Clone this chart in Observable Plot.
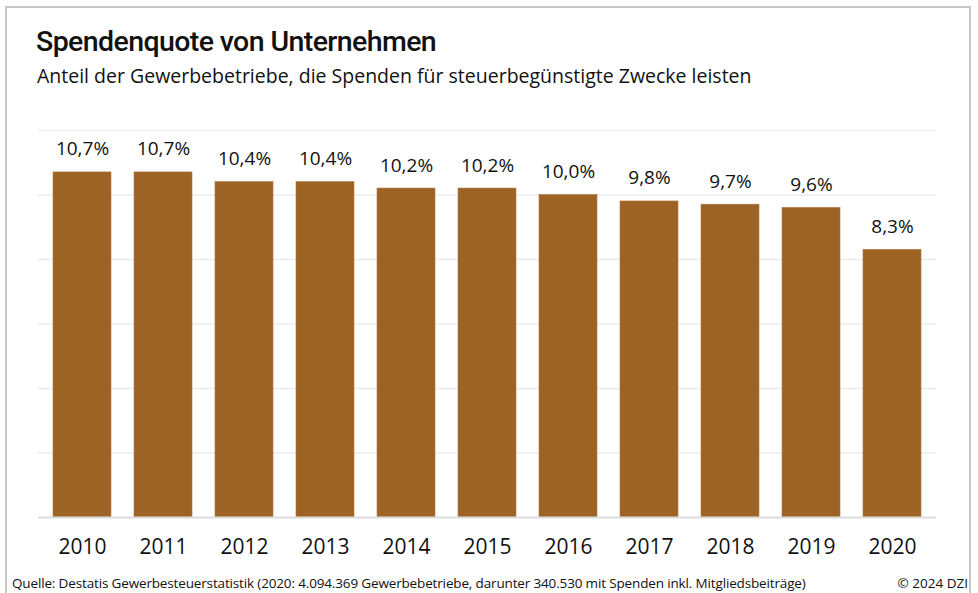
<!DOCTYPE html>
<html><head><meta charset="utf-8">
<script src="https://cdn.jsdelivr.net/npm/d3@7"></script>
<script src="https://cdn.jsdelivr.net/npm/@observablehq/plot@0.6"></script>
<style>
html,body{margin:0;padding:0;background:#fff;}
#wrap{position:relative;width:978px;height:593px;overflow:hidden;font-family:"Open Sans",sans-serif;color:#111;}
#frame{position:absolute;left:5px;top:6px;width:966px;height:600px;border:2px solid #c8c8c8;box-sizing:border-box;}
#title{position:absolute;left:36px;top:25px;font-family:Roboto,sans-serif;font-size:28.5px;font-weight:500;letter-spacing:-0.6px;white-space:nowrap;}
#subtitle{position:absolute;left:37px;top:62px;font-size:19.5px;letter-spacing:0px;white-space:nowrap;}
#caption{position:absolute;left:12px;top:574px;font-size:13.5px;letter-spacing:-0.15px;white-space:nowrap;}
#copy{position:absolute;right:10px;top:574px;font-size:13.5px;white-space:nowrap;}
#chart{position:absolute;left:0;top:0;}
</style></head>
<body>
<div id="wrap">
<div id="frame"></div>
<div id="chart"></div>
<div id="title">Spendenquote von Unternehmen</div>
<div id="subtitle">Anteil der Gewerbebetriebe, die Spenden für steuerbegünstigte Zwecke leisten</div>
<div id="caption">Quelle: Destatis Gewerbesteuerstatistik (2020: 4.094.369 Gewerbebetriebe, darunter 340.530 mit Spenden inkl. Mitgliedsbeiträge)</div>
<div id="copy">© 2024 DZI</div>
</div>
<script>
const years = ["2010","2011","2012","2013","2014","2015","2016","2017","2018","2019","2020"];
const values = [10.7,10.7,10.4,10.4,10.2,10.2,10.0,9.8,9.7,9.6,8.3];
const labels = ["10,7%","10,7%","10,4%","10,4%","10,2%","10,2%","10,0%","9,8%","9,7%","9,6%","8,3%"];
const gridTicks = [2,4,6,8,10,12];

const data = years.map((y,i)=>({year:y, value:values[i], label:labels[i]}));

const chart = Plot.plot({
  width: 978,
  height: 593,
  marginTop: 130,
  marginBottom: 76,
  marginLeft: 38,
  marginRight: 42,
  style: {fontFamily: "'Open Sans', sans-serif", background: "transparent", overflow: "visible"},
  x: {domain: years, paddingInner: 0.29, paddingOuter: 0.145, label: null, tickSize: 0},
  y: {domain: [0, 12], axis: null},
  marks: [
    Plot.ruleY(gridTicks, {stroke: "#ececec", strokeWidth: 1.5}),
    Plot.barY(data, {x: "year", y: "value", fill: "#9c6325", stroke: "#b07a40", strokeWidth: 0.6}),
    Plot.ruleY([0], {stroke: "#dcdcdc", strokeWidth: 2}),
    Plot.text(data, {x: "year", y: "value", text: "label", lineAnchor: "bottom", dy: -17, fontSize: 19, fill: "#111"}),
    Plot.axisX({tickSize: 0, tickPadding: 22, fontSize: 21, fill: "#111", label: null})
  ]
});
document.getElementById("chart").appendChild(chart);
</script>
</body></html>
